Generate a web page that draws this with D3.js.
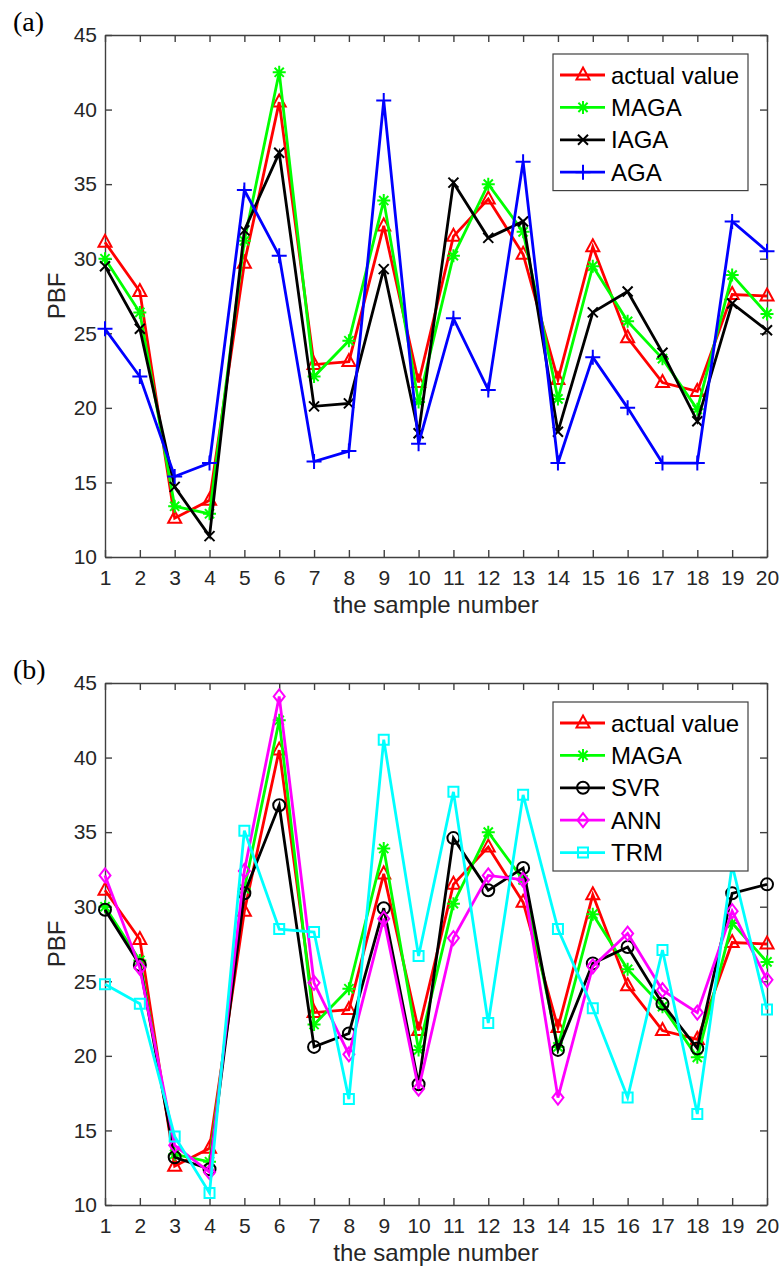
<!DOCTYPE html>
<html>
<head>
<meta charset="utf-8">
<script src="https://cdn.jsdelivr.net/npm/d3@7"></script>
<style>
  body { margin: 0; background: #fff; }
  svg { display: block; }
  .tick text { font: 21px "Liberation Sans", Arial, sans-serif; fill: #262626; }
  .domain, .tick line { stroke: #404040; stroke-width: 1.4; }
  .label { font: 24px "Liberation Sans", Arial, sans-serif; fill: #262626; }
  .panel { font: 28px "Liberation Serif", "Times New Roman", serif; fill: #000; }
  .legend text { font: 24px "Liberation Sans", Arial, sans-serif; fill: #000; }
</style>
</head>
<body>
<div id="chart"></div>
<script>
// sample numbers on the x axis
var samples = [1, 2, 3, 4, 5, 6, 7, 8, 9, 10, 11, 12, 13, 14, 15, 16, 17, 18, 19, 20];
var yTicks = [10, 15, 20, 25, 30, 35, 40, 45];

// PBF values
var actual = [31.1, 27.8, 12.6, 13.8, 29.7, 40.5, 22.9, 23.1, 32.2, 21.7, 31.5, 34.0, 30.3, 21.9, 30.8, 24.7, 21.7, 21.1, 27.6, 27.5];
var maga   = [30.0, 26.4, 13.4, 12.9, 31.2, 42.5, 22.1, 24.5, 33.9, 20.4, 30.2, 35.0, 31.8, 20.6, 29.5, 25.8, 23.3, 19.9, 28.9, 26.3];
var iaga   = [29.5, 25.3, 14.7, 11.4, 31.9, 37.1, 20.1, 20.3, 29.3, 18.3, 35.1, 31.4, 32.5, 18.4, 26.4, 27.8, 23.7, 19.1, 27.0, 25.2];
var aga    = [25.3, 22.1, 15.4, 16.3, 34.6, 30.2, 16.4, 17.1, 40.6, 17.6, 26.0, 21.2, 36.5, 16.3, 23.4, 20.0, 16.3, 16.3, 32.5, 30.5];
var svr    = [29.8, 26.1, 13.2, 12.4, 30.9, 36.8, 20.6, 21.5, 29.9, 18.1, 34.6, 31.1, 32.6, 20.4, 26.2, 27.3, 23.5, 20.5, 30.9, 31.5];
var ann    = [32.1, 25.9, 14.0, 12.2, 32.4, 44.1, 24.9, 20.1, 29.2, 17.8, 27.9, 32.1, 31.8, 17.2, 26.0, 28.2, 24.4, 22.9, 29.7, 25.1];
var trm    = [24.8, 23.5, 14.6, 10.8, 35.1, 28.5, 28.3, 17.1, 41.2, 26.7, 37.7, 22.2, 37.5, 28.5, 23.2, 17.2, 27.1, 16.1, 32.8, 23.1];

var markers = {
  triangle: "M0,-7.5L6.5,4.5L-6.5,4.5Z",
  star: "M-6.5,0H6.5M0,-6.5V6.5M-4.6,-4.6L4.6,4.6M-4.6,4.6L4.6,-4.6",
  cross: "M-5,-5L5,5M-5,5L5,-5",
  plus: "M-7.5,0H7.5M0,-7.5V7.5",
  circle: "M6,0A6,6 0 1,1 -6,0A6,6 0 1,1 6,0",
  diamond: "M0,-7L5.5,0L0,7L-5.5,0Z",
  square: "M-5,-5H5V5H-5Z"
};

var panelA = [
  {name: "actual value", values: actual, color: "#ff0000", marker: "triangle"},
  {name: "MAGA", values: maga, color: "#00ff00", marker: "star"},
  {name: "IAGA", values: iaga, color: "#000000", marker: "cross"},
  {name: "AGA", values: aga, color: "#0000ff", marker: "plus"}
];
var panelB = [
  {name: "actual value", values: actual, color: "#ff0000", marker: "triangle"},
  {name: "MAGA", values: maga, color: "#00ff00", marker: "star"},
  {name: "SVR", values: svr, color: "#000000", marker: "circle"},
  {name: "ANN", values: ann, color: "#ff00ff", marker: "diamond"},
  {name: "TRM", values: trm, color: "#00ffff", marker: "square"}
];

var width = 780, height = 1270;
var svg = d3.select("#chart").append("svg")
  .attr("width", width)
  .attr("height", height);

drawPanel("(a)", panelA, 35);
drawPanel("(b)", panelB, 683);

function drawPanel(tag, series, top) {
  var left = 105, right = 767, bottom = top + 522;

  var x = d3.scaleLinear().domain([1, 20]).range([left, right]);
  var y = d3.scaleLinear().domain([10, 45]).range([bottom, top]);

  var g = svg.append("g");

  g.append("text")
    .attr("class", "panel")
    .attr("x", 13)
    .attr("y", top - 4)
    .text(tag);

  // box with inward ticks on all four sides
  g.append("g")
    .attr("transform", "translate(0," + bottom + ")")
    .call(d3.axisBottom(x).tickValues(samples).tickFormat(d3.format("d"))
      .tickSizeInner(-7).tickSizeOuter(0).tickPadding(13));
  g.append("g")
    .attr("transform", "translate(0," + top + ")")
    .call(d3.axisTop(x).tickValues(samples).tickFormat("")
      .tickSizeInner(-7).tickSizeOuter(0));
  g.append("g")
    .attr("transform", "translate(" + left + ",0)")
    .call(d3.axisLeft(y).tickValues(yTicks).tickFormat(d3.format("d"))
      .tickSizeInner(-7).tickSizeOuter(0).tickPadding(8));
  g.append("g")
    .attr("transform", "translate(" + right + ",0)")
    .call(d3.axisRight(y).tickValues(yTicks).tickFormat("")
      .tickSizeInner(-7).tickSizeOuter(0));

  g.append("text")
    .attr("class", "label")
    .attr("x", (left + right) / 2)
    .attr("y", bottom + 56)
    .attr("text-anchor", "middle")
    .text("the sample number");

  g.append("text")
    .attr("class", "label")
    .attr("transform", "translate(65," + (top + bottom) / 2 + ") rotate(-90)")
    .attr("text-anchor", "middle")
    .text("PBF");

  var line = d3.line()
    .x(function(d, i) { return x(samples[i]); })
    .y(function(d) { return y(d); });

  series.forEach(function(s) {
    var sg = g.append("g");
    sg.append("path")
      .datum(s.values)
      .attr("d", line)
      .attr("fill", "none")
      .attr("stroke", s.color)
      .attr("stroke-width", 2.8)
      .attr("stroke-linejoin", "miter");
    sg.selectAll("path.mk")
      .data(s.values)
      .enter().append("path")
      .attr("class", "mk")
      .attr("d", markers[s.marker])
      .attr("transform", function(d, i) { return "translate(" + x(samples[i]) + "," + y(d) + ")"; })
      .attr("fill", "none")
      .attr("stroke", s.color)
      .attr("stroke-width", 2);
  });

  // legend
  var rowH = 32.4;
  var lx = 553, ly = top + 19, lw = 195, lh = series.length * rowH + 7;
  var leg = g.append("g").attr("class", "legend");
  leg.append("rect")
    .attr("x", lx).attr("y", ly)
    .attr("width", lw).attr("height", lh)
    .attr("fill", "#fff")
    .attr("stroke", "#404040")
    .attr("stroke-width", 1.2);
  series.forEach(function(s, i) {
    var cy = ly + 21 + i * rowH;
    leg.append("line")
      .attr("x1", lx + 7).attr("x2", lx + 52)
      .attr("y1", cy).attr("y2", cy)
      .attr("stroke", s.color)
      .attr("stroke-width", 2.8);
    leg.append("path")
      .attr("d", markers[s.marker])
      .attr("transform", "translate(" + (lx + 30) + "," + cy + ")")
      .attr("fill", "none")
      .attr("stroke", s.color)
      .attr("stroke-width", 2);
    leg.append("text")
      .attr("x", lx + 58)
      .attr("y", cy + 8.5)
      .text(s.name);
  });
}
</script>
</body>
</html>
